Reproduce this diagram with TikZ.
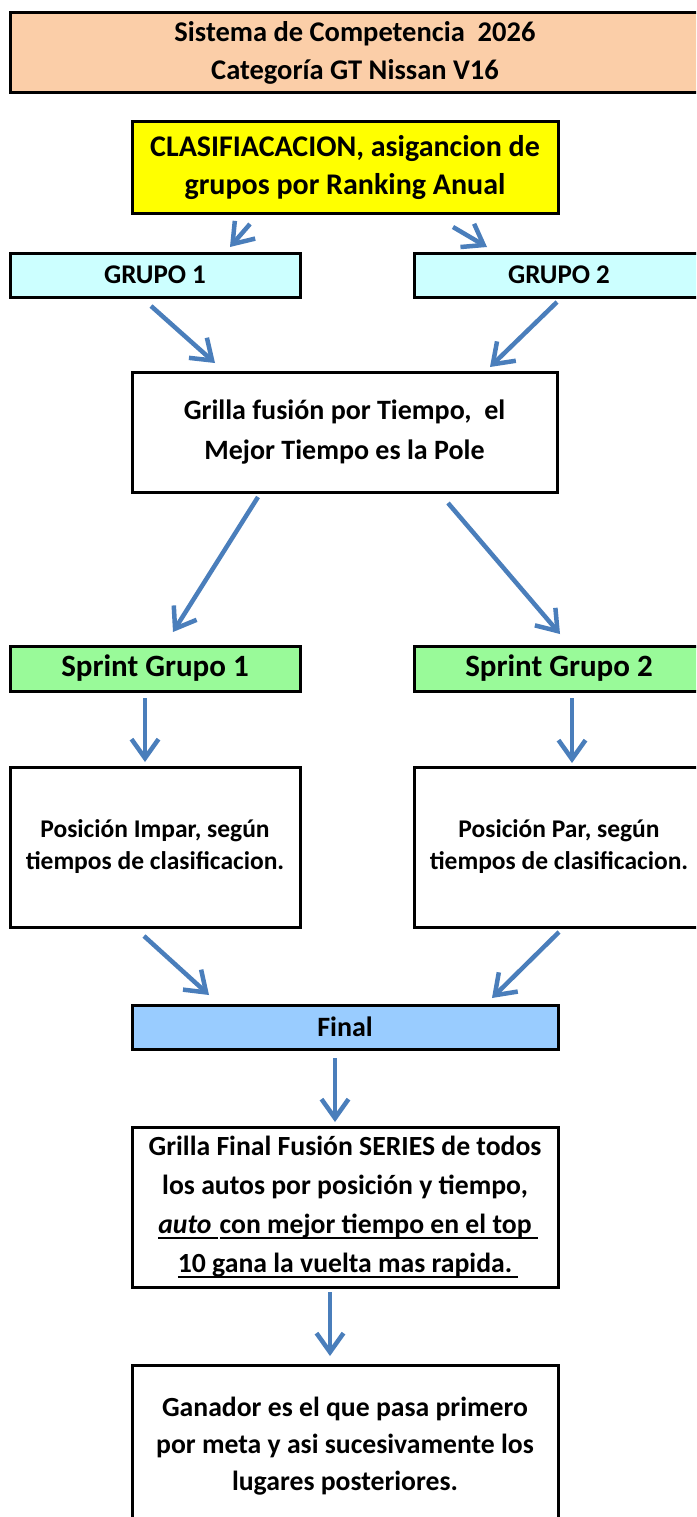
\documentclass[tikz,border=0pt]{standalone}
\usepackage{fontspec}
\setmainfont{Carlito}
\usetikzlibrary{arrows.meta}
\definecolor{peach}{RGB}{251,206,168}
\definecolor{yel}{RGB}{255,255,0}
\definecolor{cyanlt}{RGB}{204,255,255}
\definecolor{greenlt}{RGB}{153,250,153}
\definecolor{bluelt}{RGB}{153,204,255}
\definecolor{arrblue}{RGB}{74,126,187}
\newlength\ulw
\newcommand\ulx[1]{\settowidth\ulw{#1}\rlap{\rule[-5pt]{\ulw}{2pt}}#1}
\begin{document}
\begin{tikzpicture}[x=1pt,y=-1pt,
  box/.style={draw=black, line width=3pt, inner sep=0pt, align=center, text=black},
  arr/.style={draw=arrblue, line width=4.5pt, -{Straight Barb[length=19pt,width=27pt]}}]
\useasboundingbox (0,0) rectangle (696,1517);
\clip (0,0) rectangle (696,1517);
\fill[white] (0,0) rectangle (696,1517);

% boxes
\node[box, fill=peach, minimum width=690pt, minimum height=80pt,
  font=\bfseries\fontsize{28.5}{38}\selectfont] (title) at (355,53)
  {Sistema de Competencia\ \ 2026\\Categoría GT Nissan V16};
\node[box, fill=yel, minimum width=426pt, minimum height=91pt,
  font=\bfseries\fontsize{30}{38}\selectfont] (clas) at (345,167.5)
  {CLASIFIACACION, asigancion de\\grupos por Ranking Anual};
\node[box, fill=cyanlt, minimum width=290pt, minimum height=44pt,
  font=\bfseries\fontsize{27}{34}\selectfont] (g1) at (155,275) {GRUPO 1};
\node[box, fill=cyanlt, minimum width=290pt, minimum height=44pt,
  font=\bfseries\fontsize{27}{34}\selectfont] (g2) at (559,275) {GRUPO 2};
\node[box, fill=white, minimum width=425pt, minimum height=120pt,
  font=\bfseries\fontsize{28}{40}\selectfont] (grilla) at (344.5,432)
  {Grilla fusión por Tiempo,\ \ el\\Mejor Tiempo es la Pole};
\node[box, fill=greenlt, minimum width=290pt, minimum height=45pt,
  font=\bfseries\fontsize{31}{38}\selectfont] (s1) at (155,668.5) {Sprint Grupo 1};
\node[box, fill=greenlt, minimum width=290pt, minimum height=45pt,
  font=\bfseries\fontsize{31}{38}\selectfont] (s2) at (559,668.5) {Sprint Grupo 2};
\node[box, fill=white, minimum width=290pt, minimum height=160pt,
  font=\bfseries\fontsize{25.5}{32}\selectfont] (p1) at (155,847)
  {Posición Impar, según\\tiempos de clasificacion.};
\node[box, fill=white, minimum width=290pt, minimum height=160pt,
  font=\bfseries\fontsize{25.5}{32}\selectfont] (p2) at (559,847)
  {Posición Par, según\\tiempos de clasificacion.};
\node[box, fill=bluelt, minimum width=426pt, minimum height=44pt,
  font=\bfseries\fontsize{28}{34}\selectfont] (final) at (345,1027) {Final};
\node[box, fill=white, minimum width=426pt, minimum height=160pt,
  font=\bfseries\fontsize{27.7}{39}\selectfont] (gfinal) at (345,1207)
  {Grilla Final Fusión SERIES de todos\\los autos por posición y tiempo,\\
   \ulx{\textit{auto}\ }\hspace{2pt}\ulx{con mejor tiempo en el top\ }\\
   \ulx{10 gana la vuelta mas rapida.\ }};
\node[box, fill=white, minimum width=426pt, minimum height=162pt,
  font=\bfseries\fontsize{27.7}{37}\selectfont] (ganador) at (345,1446)
  {Ganador es el que pasa primero\\por meta y asi sucesivamente los\\lugares posteriores.};

% arrow end points
\coordinate (a1s) at (250,224);  \coordinate (a1e) at (230,247);
\coordinate (a2s) at (453,227);  \coordinate (a2e) at (487,247);
\coordinate (a3s) at (151,306);  \coordinate (a3e) at (215,363);
\coordinate (a4s) at (557,302);  \coordinate (a4e) at (490,367);
\coordinate (a5s) at (258,497);  \coordinate (a5e) at (173,632);
\coordinate (a6s) at (448,503);  \coordinate (a6e) at (560,634);
\coordinate (a7s) at (145,698);  \coordinate (a7e) at (145,762);
\coordinate (a8s) at (572,698);  \coordinate (a8e) at (572,763);
\coordinate (a9s) at (144,936);  \coordinate (a9e) at (209,995);
\coordinate (a10s) at (559,932); \coordinate (a10e) at (492,998);
\coordinate (a11s) at (335,1058); \coordinate (a11e) at (335,1122);
\coordinate (a12s) at (330,1292); \coordinate (a12e) at (330,1356);

\foreach \i in {1,...,12} { \draw[arr] (a\i s) -- (a\i e); }
\end{tikzpicture}
\end{document}
